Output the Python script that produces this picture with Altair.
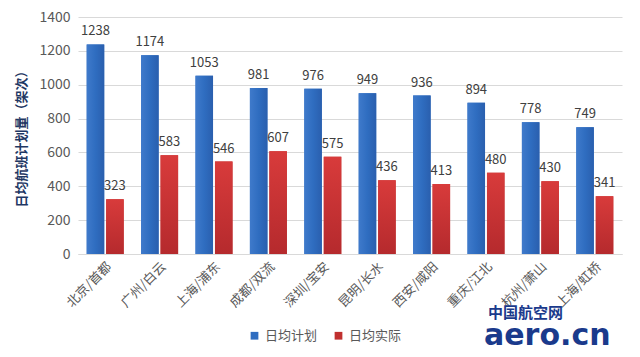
import altair as alt
import pandas as pd

cities = ["北京/首都", "广州/白云", "上海/浦东", "成都/双流", "深圳/宝安",
          "昆明/长水", "西安/咸阳", "重庆/江北", "杭州/萧山", "上海/虹桥"]
plan = [1238, 1174, 1053, 981, 976, 949, 936, 894, 778, 749]
actual = [323, 583, 546, 607, 575, 436, 413, 480, 430, 341]
series = ["日均计划", "日均实际"]
y_ticks = [0, 200, 400, 600, 800, 1000, 1200, 1400]

rows = []
for c, p, a in zip(cities, plan, actual):
    rows.append({"city": c, "series": series[0], "value": p})
    rows.append({"city": c, "series": series[1], "value": a})
df = pd.DataFrame(rows)

FONT = "Noto Sans CJK SC"

blue_grad = alt.Gradient(gradient="linear", x1=0, x2=1, y1=0, y2=0,
                         stops=[alt.GradientStop(color="#3F7ACB", offset=0),
                                alt.GradientStop(color="#2F6DC0", offset=0.5),
                                alt.GradientStop(color="#2A5FAE", offset=1)])
red_grad = alt.Gradient(gradient="linear", x1=0, x2=0, y1=0, y2=1,
                        stops=[alt.GradientStop(color="#D83B3B", offset=0),
                               alt.GradientStop(color="#B52A2D", offset=1)])

base = alt.Chart(df).encode(
    x=alt.X("city:N", sort=cities,
            scale=alt.Scale(paddingInner=0.32, paddingOuter=0.16),
            axis=alt.Axis(title=None, labelAngle=-45, labelFont=FONT,
                          labelFontSize=13, labelColor="#595959",
                          ticks=False, domainColor="#D9D9D9", labelPadding=6)),
    xOffset=alt.XOffset("series:N", sort=series,
                        scale=alt.Scale(domain=series, paddingInner=0.1)),
    y=alt.Y("value:Q", scale=alt.Scale(domain=[0, 1400]),
            axis=alt.Axis(values=y_ticks, format="d", title="日均航班计划量（架次）",
                          titleFont=FONT, titleFontSize=13, titleFontWeight="bold",
                          titleColor="#1F3864", titlePadding=10,
                          labelFont=FONT, labelFontSize=14, labelColor="#595959",
                          labelPadding=8, ticks=False, domain=False,
                          gridColor="#D9D9D9")),
)

bars = base.mark_bar().encode(
    color=alt.Color("series:N", sort=series,
                    scale=alt.Scale(domain=series, range=["#2F6DC0", "#C0302F"]),
                    legend=alt.Legend(orient="none", legendX=170, legendY=312,
                                      direction="horizontal", title=None,
                                      symbolType="square", symbolSize=60,
                                      labelFont=FONT, labelFontSize=13,
                                      labelColor="#595959", columnPadding=14))
)

blue_bars = base.transform_filter(alt.datum.series == series[0]).mark_bar(fill=blue_grad)
red_bars = base.transform_filter(alt.datum.series == series[1]).mark_bar(fill=red_grad)

labels = base.mark_text(dy=-13, font=FONT, fontSize=13, color="#404040").encode(
    text="value:Q")

wm1 = alt.Chart(pd.DataFrame({"t": ["中国航空网"]})).mark_text(
    font=FONT, fontSize=15, fontWeight="bold", color="#1A3A8C", align="left",
    baseline="middle"
).encode(x=alt.value(410), y=alt.value(296), text="t:N")
wm2 = alt.Chart(pd.DataFrame({"t": ["aero.cn"]})).mark_text(
    font="DejaVu Sans", fontSize=30, fontWeight="bold", color="#1A3A8C",
    align="left", baseline="alphabetic"
).encode(x=alt.value(406), y=alt.value(328), text="t:N")

chart = alt.layer(bars, blue_bars, red_bars, labels, wm1, wm2).properties(
    width=544, height=237,
    autosize=alt.AutoSizeParams(type="none"),
    padding={"left": 70, "top": 9, "right": 10, "bottom": 95},
    background="white",
).configure_view(stroke=None)

chart.save("out.html", embed_options={"renderer": "svg", "actions": False})
